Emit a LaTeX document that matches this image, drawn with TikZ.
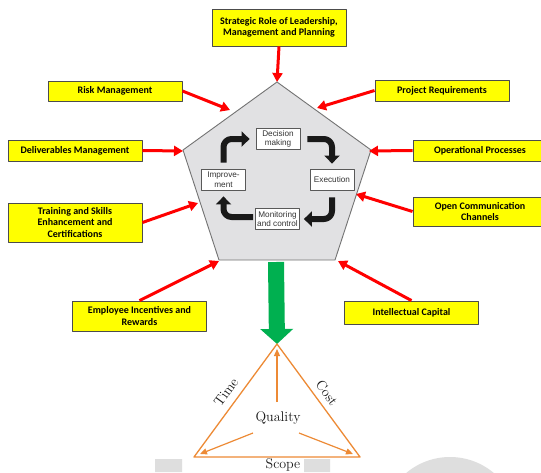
\documentclass[tikz,border=0pt]{standalone}
\usepackage{fontspec}
\usepackage{tikz}
\usetikzlibrary{arrows.meta}
\newfontfamily\boxfont{Carlito}
\newfontfamily\cycfont{Liberation Sans}
\definecolor{boxyellow}{HTML}{FFFF00}
\definecolor{penta}{HTML}{E1E1E3}
\definecolor{tri}{HTML}{ED8A35}
\definecolor{grn}{HTML}{00B050}
\definecolor{wmgray}{HTML}{DEDEDE}
\begin{document}
\begin{tikzpicture}[x=1pt,y=-1pt,line join=round]
\tikzstyle{box} = [draw=gray!60!black,fill=boxyellow,line width=.9,minimum width=134,inner sep=2,align=center,font=\boxfont\bfseries\fontsize{10}{11.5}\selectfont]
\tikzstyle{cyc} = [draw=gray!70!black,fill=white,line width=.8,minimum width=44,minimum height=21,inner sep=1,align=center,text=black!80,font=\cycfont\fontsize{8.2}{9.5}\selectfont]
\tikzstyle{feed} = [red,line width=3,-{Triangle[width=10,length=9]}]
\tikzstyle{cycarrow} = [black!90,line width=6,rounded corners=8,-{Triangle[width=15,length=8]}]
\tikzstyle{qarrow} = [tri,line width=1.2,-{Triangle[width=6,length=7]}]
\tikzstyle{lbl} = [text=black!90,inner sep=0,font=\fontsize{14}{16}\selectfont]
\clip (0,0) rectangle (541,472);
\fill[white] (0,0) rectangle (541,472);
\fill[wmgray] (155,459) rectangle (182,472) (304,459) rectangle (330,472) (450,525) circle (68);
\filldraw[draw=gray!90!black,fill=penta,line width=.9](277,82)--(371,150)--(335,260)--(219,260)--(183,150)--cycle;
\coordinate (pTop) at (277,82);
\coordinate (pRisk) at (230,110);
\coordinate (pProj) at (317,108);
\coordinate (pDeliv) at (183,151);
\coordinate (pOper) at (369,151);
\coordinate (pTrain) at (198,203);
\coordinate (pOpen) at (356,194);
\coordinate (pEmpl) at (219,261);
\coordinate (pIntel) at (338,261);
\coordinate (pBot) at (276,262);
\node[box,minimum height=37] (strat) at (279,27.5) {Strategic Role of Leadership,\\Management and Planning};
\node[box,minimum height=20] (risk) at (115,91) {Risk Management};
\node[box,minimum height=21] (proj) at (442,90.5) {Project Requirements};
\node[box,minimum height=21] (deliv) at (75,150.5) {Deliverables Management};
\node[box,minimum height=39] (train) at (75,222.5) {Training and Skills\\Enhancement and\\Certifications};
\node[box,minimum height=30] (empl) at (139.5,316) {Employee Incentives and\\Rewards};
\node[box,minimum height=21] (oper) at (480,150.5) {Operational Processes};
\node[box,minimum height=29] (open) at (480,211.5) {Open Communication\\Channels};
\node[box,minimum height=23] (intel) at (411.5,312.5) {Intellectual Capital};
\draw[feed] (strat.south) -- (pTop);
\draw[feed] (risk.east) -- (pRisk);
\draw[feed] (proj.west) -- (pProj);
\draw[feed] (deliv.east) -- (pDeliv);
\draw[feed] (oper.west) -- (pOper);
\draw[feed] (train.east) -- (pTrain);
\draw[feed] (open.west) -- (pOpen);
\draw[feed] (empl.north) -- (pEmpl);
\draw[feed] (intel.north) -- (pIntel);
\node[cyc] (dec) at (278,139) {Decision\\making};
\node[cyc] (exec) at (332,179.5) {Execution};
\node[cyc] (mon) at (277.5,219) {Monitoring\\and control};
\node[cyc] (impr) at (223.5,179.5) {Improve-\\ment};
\draw[cycarrow] ([yshift=6]impr.north) |- ([xshift=-6]dec.west);
\draw[cycarrow] ([xshift=7]dec.east) -| ([yshift=5]exec.north);
\draw[cycarrow] ([yshift=-7]exec.south) |- ([xshift=4]mon.east);
\draw[cycarrow] ([xshift=-2,yshift=2]mon.west) -| ([yshift=-6]impr.south);
\coordinate (tTop) at (277,344);
\coordinate (tLeft) at (194,457);
\coordinate (tRight) at (360,457);
\draw[grn,line width=16,-{Triangle[width=32,length=15]}] (pBot) -- (tTop);
\draw[tri,line width=1.3] (tTop)--(tRight)--(tLeft)--cycle;
\node[lbl] (qual) at (278,418) {Quality};
\node[lbl,rotate=54] (time) at (226,392) {Time};
\node[lbl,rotate=-54] (cost) at (327,393) {Cost};
\node[lbl] (scope) at (283,465) {Scope};
\coordinate (qUp) at (277,402);
\coordinate (qLeft) at (253,433);
\coordinate (qRight) at (299,433);
\draw[qarrow] (qUp) -- ([yshift=-5]tTop);
\draw[qarrow] (qLeft) -- (200,454);
\draw[qarrow] (qRight) -- (353,454);
\end{tikzpicture}
\end{document}
